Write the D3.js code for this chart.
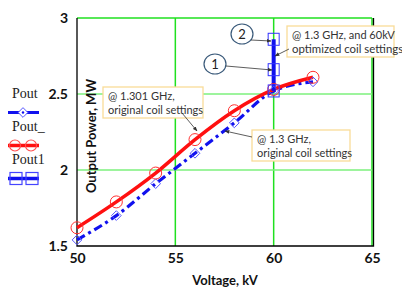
<!DOCTYPE html>
<html>
<head>
<meta charset="utf-8">
<script src="https://cdn.jsdelivr.net/npm/d3@7"></script>
<style>
body { margin: 0; background: #fff; }
svg { display: block; }
</style>
</head>
<body>
<script>
// chart data
var voltage = [50, 52, 54, 56, 58, 60, 62];
var pout = [1.54, 1.70, 1.91, 2.11, 2.31, 2.52, 2.58];       // 1.3 GHz, original
var poutRed = [1.62, 1.79, 1.98, 2.20, 2.39, 2.53, 2.61];   // 1.301 GHz, original
var pout1Voltage = [60, 60, 60];
var pout1 = [2.52, 2.66, 2.86];                             // optimized coil
var xTicks = [50, 55, 60, 65];
var yTicks = [1.5, 2, 2.5, 3];
var legendNames = ["Pout", "Pout_", "Pout1"];

var W = 402, H = 301;
var svg = d3.select("body").append("svg")
	.attr("width", W)
	.attr("height", H);

var x = d3.scaleLinear().domain([50, 65]).range([77, 372]);
var y = d3.scaleLinear().domain([1.5, 3]).range([246, 18]);

var sans = "Lato, 'Open Sans', sans-serif";
var green = "#1fe01f";

// arrow marker
var defs = svg.append("defs");
defs.append("marker")
	.attr("id", "arr")
	.attr("viewBox", "0 0 10 10")
	.attr("refX", 9).attr("refY", 5)
	.attr("markerWidth", 6).attr("markerHeight", 6)
	.attr("orient", "auto")
	.append("path")
	.attr("d", "M0,1 L10,5 L0,9 Z")
	.attr("fill", "#333");

// gridlines
svg.selectAll(".vgrid")
	.data(xTicks.slice(1))
	.enter().append("line")
	.attr("x1", function(d) { return x(d); })
	.attr("x2", function(d) { return x(d); })
	.attr("y1", y(3)).attr("y2", y(1.5))
	.attr("stroke", green).attr("stroke-width", 1.5);
svg.selectAll(".hgrid")
	.data(yTicks.slice(1))
	.enter().append("line")
	.attr("x1", x(50)).attr("x2", x(65))
	.attr("y1", function(d) { return y(d); })
	.attr("y2", function(d) { return y(d); })
	.attr("stroke", function(d) { return d == 3 ? green : "#7cf07c"; })
	.attr("stroke-width", 1.5);

// frame: left, bottom, right
svg.append("path")
	.attr("d", "M" + x(50) + "," + y(3) + " V" + y(1.5) + " H" + (x(65) + 1.5) + " V" + y(3))
	.attr("fill", "none").attr("stroke", "#000").attr("stroke-width", 1.3);

// axes
svg.append("g")
	.attr("transform", "translate(0," + y(1.5) + ")")
	.call(d3.axisBottom(x).tickValues(xTicks).tickSize(0).tickPadding(7).tickFormat(d3.format("d")));
svg.append("g")
	.attr("transform", "translate(" + x(50) + ",0)")
	.call(d3.axisLeft(y).tickValues(yTicks).tickSize(0).tickPadding(9).tickFormat(function(d) { return String(d); }));
svg.selectAll(".domain").remove();
svg.selectAll(".tick text")
	.attr("font-family", sans)
	.attr("font-weight", "bold")
	.attr("font-size", 14)
	.attr("fill", "#111");

// axis titles
svg.append("text")
	.attr("x", 225).attr("y", 285)
	.attr("text-anchor", "middle")
	.attr("font-family", sans).attr("font-weight", "bold").attr("font-size", 13)
	.attr("fill", "#111")
	.text("Voltage, kV");
svg.append("text")
	.attr("transform", "translate(96,136) rotate(-90)")
	.attr("text-anchor", "middle")
	.attr("font-family", sans).attr("font-weight", "bold").attr("font-size", 13)
	.attr("fill", "#111")
	.text("Output Power, MW");

// curves
var line = d3.line()
	.x(function(d) { return x(d[0]); })
	.y(function(d) { return y(d[1]); })
	.curve(d3.curveMonotoneX);

var bluePts = d3.zip(voltage, pout);
var redPts = d3.zip(voltage, poutRed);
var optPts = d3.zip(pout1Voltage, pout1);

svg.append("path")
	.attr("d", line(bluePts))
	.attr("fill", "none").attr("stroke", "#1111ee")
	.attr("stroke-width", 3.2)
	.attr("stroke-dasharray", "9,4,3,4");
svg.append("path")
	.attr("d", line(redPts))
	.attr("fill", "none").attr("stroke", "#ff1010")
	.attr("stroke-width", 3.5);
svg.append("path")
	.attr("d", d3.line().x(function(d) { return x(d[0]); }).y(function(d) { return y(d[1]); })(optPts))
	.attr("fill", "none").attr("stroke", "#1111ee")
	.attr("stroke-width", 4);

// markers
svg.selectAll(".dia")
	.data(bluePts)
	.enter().append("path")
	.attr("d", d3.symbol(d3.symbolDiamond2, 60)())
	.attr("transform", function(d) { return "translate(" + x(d[0]) + "," + y(d[1]) + ")"; })
	.attr("fill", "none").attr("stroke", "#5555ff").attr("stroke-width", 1);
svg.selectAll(".circ")
	.data(redPts)
	.enter().append("circle")
	.attr("cx", function(d) { return x(d[0]); })
	.attr("cy", function(d) { return y(d[1]); })
	.attr("r", 6)
	.attr("fill", "none").attr("stroke", "#ff3030").attr("stroke-width", 1);
svg.selectAll(".sq")
	.data(optPts)
	.enter().append("rect")
	.attr("x", function(d) { return x(d[0]) - 5.5; })
	.attr("y", function(d) { return y(d[1]) - 6; })
	.attr("width", 11).attr("height", 12)
	.attr("fill", "none").attr("stroke", "#3333ff").attr("stroke-width", 1);

// legend
var leg = svg.append("g");
legendNames.forEach(function(name, i) {
	var ty = 98 + i * 33;
	var ly = ty + 14.5;
	leg.append("text")
		.attr("x", 12).attr("y", ty)
		.attr("font-family", "'Liberation Serif', serif").attr("font-size", 14)
		.attr("fill", "#222")
		.text(name);
	var col = i == 1 ? "#ff1010" : "#1111ee";
	leg.append("line")
		.attr("x1", 8).attr("x2", 39).attr("y1", ly).attr("y2", ly)
		.attr("stroke", col).attr("stroke-width", i == 0 ? 3 : 3.5);
	if (i == 0) {
		leg.append("path")
			.attr("d", d3.symbol(d3.symbolDiamond2, 60)())
			.attr("transform", "translate(23," + ly + ")")
			.attr("fill", "#fff").attr("stroke", "#5555ff").attr("stroke-width", 1);
		leg.append("circle").attr("cx", 23).attr("cy", ly).attr("r", 1.2).attr("fill", "#1111ee");
	} else if (i == 1) {
		[15, 31].forEach(function(cx) {
			leg.append("circle").attr("cx", cx).attr("cy", ly).attr("r", 5.5)
				.attr("fill", "none").attr("stroke", "#ff5050").attr("stroke-width", 1.2);
		});
	} else {
		[16, 32].forEach(function(cx) {
			leg.append("rect").attr("x", cx - 6).attr("y", ly - 6).attr("width", 12).attr("height", 12)
				.attr("fill", "none").attr("stroke", "#4444ff").attr("stroke-width", 1.2);
		});
	}
});

// annotation boxes
var notes = [
	{box: [103, 87, 100, 31], lines: ["@ 1.301 GHz,", "original coil settings"], arrow: [182, 113, 197, 131]},
	{box: [252, 130, 98, 31], lines: ["@ 1.3 GHz,", "original coil settings"], arrow: [252, 137, 225, 131]},
	{box: [287, 26, 107, 31], lines: ["@ 1.3 GHz, and 60kV", "optimized coil settings"], arrow: [289, 49, 275, 56]}
];
notes.forEach(function(n) {
	svg.append("rect")
		.attr("x", n.box[0]).attr("y", n.box[1])
		.attr("width", n.box[2]).attr("height", n.box[3])
		.attr("fill", "#fff").attr("stroke", "#f9dc98").attr("stroke-width", 1.3);
	n.lines.forEach(function(t, i) {
		svg.append("text")
			.attr("x", n.box[0] + 5).attr("y", n.box[1] + 13 + i * 13.5)
			.attr("font-family", sans).attr("font-size", i == 1 && n.box[2] > 100 ? 11.4 : 11)
			.attr("fill", "#333")
			.text(t);
	});
	svg.append("line")
		.attr("x1", n.arrow[0]).attr("y1", n.arrow[1])
		.attr("x2", n.arrow[2]).attr("y2", n.arrow[3])
		.attr("stroke", "#333").attr("stroke-width", 0.8)
		.attr("marker-end", "url(#arr)");
});

// numbered callouts
var callouts = [
	{label: "2", cx: 242, cy: 34, x2: 271, y2: 41, sx: 251, sy: 40},
	{label: "1", cx: 215, cy: 64, x2: 272, y2: 70, sx: 226, sy: 66}
];
callouts.forEach(function(c) {
	svg.append("ellipse")
		.attr("cx", c.cx).attr("cy", c.cy).attr("rx", 11).attr("ry", 10)
		.attr("fill", "#fff").attr("stroke", "#3a5a7a").attr("stroke-width", 1.2);
	svg.append("text")
		.attr("x", c.cx).attr("y", c.cy + 4.5)
		.attr("text-anchor", "middle")
		.attr("font-family", sans).attr("font-size", 13)
		.attr("fill", "#222")
		.text(c.label);
	svg.append("line")
		.attr("x1", c.sx).attr("y1", c.sy).attr("x2", c.x2).attr("y2", c.y2)
		.attr("stroke", "#333").attr("stroke-width", 0.8)
		.attr("marker-end", "url(#arr)");
});
</script>
</body>
</html>
